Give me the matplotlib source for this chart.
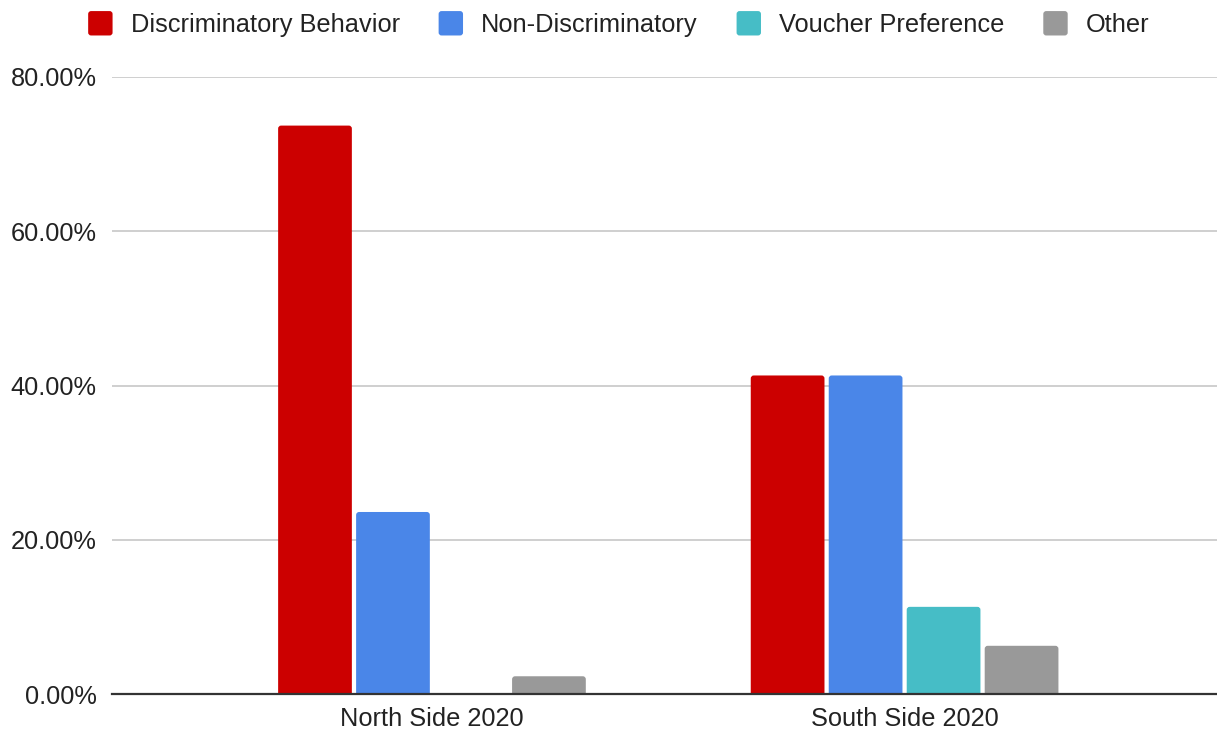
import matplotlib
matplotlib.use("Agg")
import matplotlib.pyplot as plt
from matplotlib.patches import FancyBboxPatch
from matplotlib.legend_handler import HandlerPatch
from matplotlib.ticker import FuncFormatter, MultipleLocator
import numpy as np

# Share of responses by category for each area
areas = ["North Side 2020", "South Side 2020"]
series = ["Discriminatory Behavior", "Non-Discriminatory", "Voucher Preference", "Other"]
discriminatory = [73.7, 41.3]
non_discriminatory = [23.6, 41.3]
voucher_preference = [0.0, 11.3]
other = [2.3, 6.25]
colors = ["#cc0000", "#4a86e8", "#46bdc6", "#999999"]

values = [discriminatory, non_discriminatory, voucher_preference, other]

plt.rcParams["font.family"] = ["Liberation Sans", "DejaVu Sans"]
text_color = "#222222"
fsize = 18.3

W, H = 1217, 730
fig = plt.figure(figsize=(W / 100, H / 100), dpi=100)
ax = fig.add_axes([112 / W, 1 - 694 / H, (W - 112) / W, (694 - 77) / H])

ax.set_ylim(0, 80)
ax.set_xlim(-0.677, 1.661)

# pixel -> data scale factors, used to give bars small rounded corners
px_x = (1.661 + 0.677) / (W - 112)
px_y = 80 / (694 - 77)
radius_px = 3

x = np.arange(len(areas))
width = 0.156
step = 0.165
offsets = (np.arange(len(series)) - (len(series) - 1) / 2) * step
for vals, off, col in zip(values, offsets, colors):
    bars = ax.bar(x + off, vals, width=width, color=col, zorder=3)
    for b in bars:
        h = b.get_height()
        b.set_visible(False)
        if h <= 0:
            continue
        # start slightly below the axis so only the top corners show rounding
        y0 = -radius_px * px_y
        rp = FancyBboxPatch((b.get_x(), y0), b.get_width(), h - y0,
                            boxstyle=f"round,pad=0,rounding_size={radius_px * px_x}",
                            mutation_aspect=px_y / px_x,
                            facecolor=col, edgecolor="none", zorder=3)
        ax.add_patch(rp)

ax.yaxis.set_major_locator(MultipleLocator(20))
ax.yaxis.set_major_formatter(FuncFormatter(lambda v, p: f"{v:.2f}%"))
ax.grid(axis="y", color="#cccccc", linewidth=1.3, zorder=0)
ax.set_axisbelow(True)
for s in ["top", "right", "left"]:
    ax.spines[s].set_visible(False)
ax.spines["bottom"].set_color("#333333")
ax.spines["bottom"].set_linewidth(1.6)
ax.spines["bottom"].set_zorder(4)

ax.set_xticks(x)
ax.set_xticklabels(areas)
ax.tick_params(axis="both", length=0, labelsize=fsize, colors=text_color)
ax.tick_params(axis="y", pad=11)
ax.tick_params(axis="x", pad=9)


class RoundSquare(HandlerPatch):
    def create_artists(self, legend, orig_handle, xdescent, ydescent,
                       width, height, fontsize, trans):
        s = min(width, height)
        p = FancyBboxPatch((-xdescent + (width - s) / 2, -ydescent + (height - s) / 2), s, s,
                           boxstyle=f"round,pad=0,rounding_size={s * 0.12}",
                           facecolor=orig_handle.get_facecolor(), edgecolor="none",
                           transform=trans)
        return [p]


handles = [FancyBboxPatch((0, 0), 1, 1, facecolor=c, edgecolor="none") for c in colors]
fig.legend(handles, series, loc="center", bbox_to_anchor=(618 / W, 1 - 24 / H),
           ncol=4, frameon=False, fontsize=fsize, handlelength=1.1, handleheight=1.1,
           handletextpad=0.65, columnspacing=1.45, labelcolor=text_color,
           handler_map={FancyBboxPatch: RoundSquare()})

fig.savefig("out.png", dpi=100, facecolor="white")
